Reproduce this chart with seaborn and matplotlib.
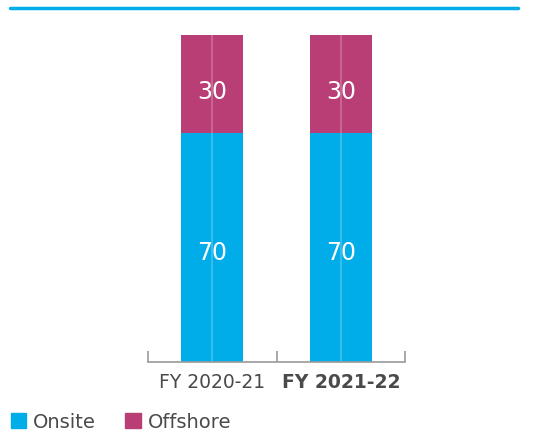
import pandas as pd
import matplotlib
matplotlib.use('Agg')
import matplotlib.pyplot as plt
import matplotlib.patches as mpatches
import seaborn as sns

years = ['FY 2020-21', 'FY 2021-22']
onsite = [70, 70]
offshore = [30, 30]

cyan = '#00ADE8'
magenta = '#B83E75'
grey_text = '#4A4A4A'

sns.set_style('white')
plt.rcParams['font.family'] = ['DejaVu Sans']

df = pd.DataFrame({'year': years, 'onsite': onsite, 'offshore': offshore})
df['total'] = df['onsite'] + df['offshore']

fig = plt.figure(figsize=(5.46, 4.40), dpi=100)
ax = fig.add_axes([148 / 546, 78 / 440, 257 / 546, 327 / 440])

# stacked: draw totals first, onsite on top of it
sns.barplot(data=df, x='year', y='total', color=magenta, saturation=1, width=0.48,
            linewidth=0, ax=ax)
sns.barplot(data=df, x='year', y='onsite', color=cyan, saturation=1, width=0.48,
            linewidth=0, ax=ax)

for i, (on, off) in enumerate(zip(onsite, offshore)):
    ax.annotate(str(on), (i, on / 2), xytext=(0, -4), textcoords='offset points',
                ha='center', va='center', color='white', fontsize=17)
    ax.annotate(str(off), (i, on + off / 2), xytext=(0, -6), textcoords='offset points',
                ha='center', va='center', color='white', fontsize=17)
    # faint centre line through the bars
    ax.axvline(i, 0, (on + off) / 100, color='white', alpha=0.25, lw=1.2)

ax.set_xlim(-0.5, 1.5)
ax.set_ylim(0, 100)
ax.set_xlabel('')
ax.set_ylabel('')
ax.set_yticks([])
for s in ['top', 'right', 'left']:
    ax.spines[s].set_visible(False)
ax.spines['bottom'].set_color('#9A9A9A')
ax.spines['bottom'].set_linewidth(1.2)

ax.set_xticks([0, 1])
ax.set_xticklabels(years)
ax.set_xticks([-0.5, 0.5, 1.5], minor=True)
ax.tick_params(axis='x', which='major', bottom=False, length=0, pad=8, labelsize=13.5,
               labelcolor=grey_text)
ax.tick_params(axis='x', which='minor', bottom=True, direction='in', length=8, width=1.2,
               color='#9A9A9A')
ax.get_xticklabels()[1].set_fontweight('bold')

# top rule across the figure
fig.add_artist(plt.Line2D([10 / 546, 518 / 546], [1 - 8 / 440, 1 - 8 / 440],
                          color=cyan, lw=2.5, transform=fig.transFigure))

handles = [mpatches.Patch(color=cyan, label='Onsite'),
           mpatches.Patch(color=magenta, label='Offshore')]
leg = fig.legend(handles=handles, loc='lower left', bbox_to_anchor=(-0.005, -0.012),
                 ncol=2, frameon=False, fontsize=14, handlelength=0.8, handleheight=0.8,
                 handletextpad=0.35, columnspacing=1.5, borderaxespad=0.3)
for t in leg.get_texts():
    t.set_color(grey_text)

fig.savefig('out.png', dpi=100)
